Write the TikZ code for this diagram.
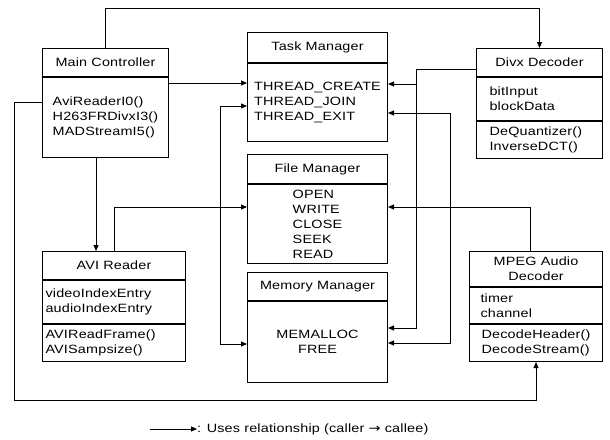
\documentclass[tikz,border=0pt]{standalone}
\usepackage{fontspec}
\setmainfont{Liberation Sans}
\newfontfamily\boxfont[FakeStretch=1.2,LetterSpace=1.5]{Liberation Sans}
\newfontfamily\symfont[FakeStretch=1.2]{DejaVu Sans}
\usetikzlibrary{arrows.meta}
\begin{document}
\begin{tikzpicture}[x=1pt,y=-1pt,
  part/.style={draw, line width=1pt, anchor=north west, inner xsep=4pt,
    inner ysep=0pt, font=\boxfont\fontsize{12}{15}\selectfont},
  arr/.style={line width=0.9pt, -{Triangle[length=6pt,width=5pt]}},
  arrs/.style={line width=0.9pt, {Triangle[length=6pt,width=5pt]}-{Triangle[length=6pt,width=5pt]}}]
\useasboundingbox (0,0) rectangle (610,439);

% Main Controller
\node[part, minimum width=126pt, minimum height=28pt, align=center] (mch) at (42,48) {Main Controller};
\node[part, minimum width=126pt, minimum height=80pt, align=left] (mcb) at (mch.south west) {AviReaderI0()\\H263FRDivxI3()\\MADStreamI5()};

% Task Manager
\node[part, minimum width=140pt, minimum height=30pt, align=center] (tmh) at (247,32) {Task Manager};
\node[part, minimum width=140pt, minimum height=78pt, align=left, inner xsep=2pt] (tmb) at (tmh.south west) {THREAD\_CREATE\\THREAD\_JOIN\\THREAD\_EXIT};

% File Manager
\node[part, minimum width=140pt, minimum height=29pt, align=center] (fmh) at (247,154) {File Manager};
\node[part, minimum width=140pt, minimum height=79pt, align=left] (fmb) at (fmh.south west) {OPEN\\WRITE\\CLOSE\\SEEK\\READ};

% Memory Manager
\node[part, minimum width=140pt, minimum height=28pt, align=center, inner xsep=1pt] (mmh) at (247,272) {Memory Manager};
\node[part, minimum width=140pt, minimum height=81pt, align=center] (mmb) at (mmh.south west) {MEMALLOC\\FREE};

% AVI Reader
\node[part, minimum width=143pt, minimum height=28pt, align=center] (avh) at (42,251) {AVI Reader};
\node[part, text width=137pt, inner xsep=3pt, minimum height=43pt, align=left] (ava) at (avh.south west) {videoIndexEntry\\audioIndexEntry};
\node[part, text width=137pt, inner xsep=3pt, minimum height=37pt, align=left] (avm) at (ava.south west) {AVIReadFrame()\\AVISampsize()};

% Divx Decoder
\node[part, minimum width=126pt, minimum height=28pt, align=center] (dvh) at (476,48) {Divx Decoder};
\node[part, text width=100pt, inner xsep=13pt, minimum height=43pt, align=left] (dva) at (dvh.south west) {bitInput\\blockData};
\node[part, text width=100pt, inner xsep=13pt, minimum height=37pt, align=left] (dvm) at (dva.south west) {DeQuantizer()\\InverseDCT()};

% MPEG Audio Decoder
\node[part, minimum width=133pt, minimum height=35pt, align=center] (mph) at (469,251) {MPEG Audio\\Decoder};
\node[part, text width=111pt, inner xsep=11pt, minimum height=36pt, align=left] (mpa) at (mph.south west) {timer\\channel};
\node[part, minimum width=133pt, minimum height=37pt, align=left, inner xsep=2pt] (mpm) at (mpa.south west) {DecodeHeader()\\DecodeStream()};

% bend points of the connectors
\coordinate (c1) at (105,8);
\coordinate (c2) at (0,83);
\coordinate (c3a) at (14,102);
\coordinate (c3) at (0,400);
\coordinate (c4) at (96,0);
\coordinate (c5) at (114,207);
\coordinate (c6a) at (220,106);
\coordinate (c6b) at (220,344);
\coordinate (c7a) at (416,69);
\coordinate (c7b) at (416,84);
\coordinate (c7c) at (416,328);
\coordinate (c8a) at (450,113);
\coordinate (c8b) at (450,343);
\coordinate (c9) at (530,207);

% connectors
\draw[arr] (mch.north -| c1) -- (c1) -| (dvh.north);
\draw[arr] (mcb.east |- c2) -- (tmb.west |- c2);
\draw[arr] (mcb.west |- c3a) -- (c3a) |- (mpm.south |- c3) -- (mpm.south);
\draw[arr] (mcb.south -| c4) -- (avh.north -| c4);
\draw[arr] (avh.north -| c5) |- (fmb.west |- c5);
\draw[arrs] (tmb.west |- c6a) -- (c6a) -- (c6b) -- (mmb.west |- c6b);
\draw[arr] (dvh.west |- c7a) -- (c7a) |- (mmb.east |- c7c);
\draw[arr] (c7b) -- (tmb.east |- c7b);
\draw[arrs] (tmb.east |- c8a) -- (c8a) -- (c8b) -- (mmb.east |- c8b);
\draw[arr] (mph.north -| c9) |- (fmb.east |- c9);

% legend
\coordinate (lg) at (150,429);
\node[anchor=west, inner sep=0pt, font=\boxfont\fontsize{12}{15}\selectfont] (lgt) at (197,429) {: Uses relationship (caller {\symfont →} callee)};
\draw[arr] (lg) -- (lgt.west);
\end{tikzpicture}
\end{document}
